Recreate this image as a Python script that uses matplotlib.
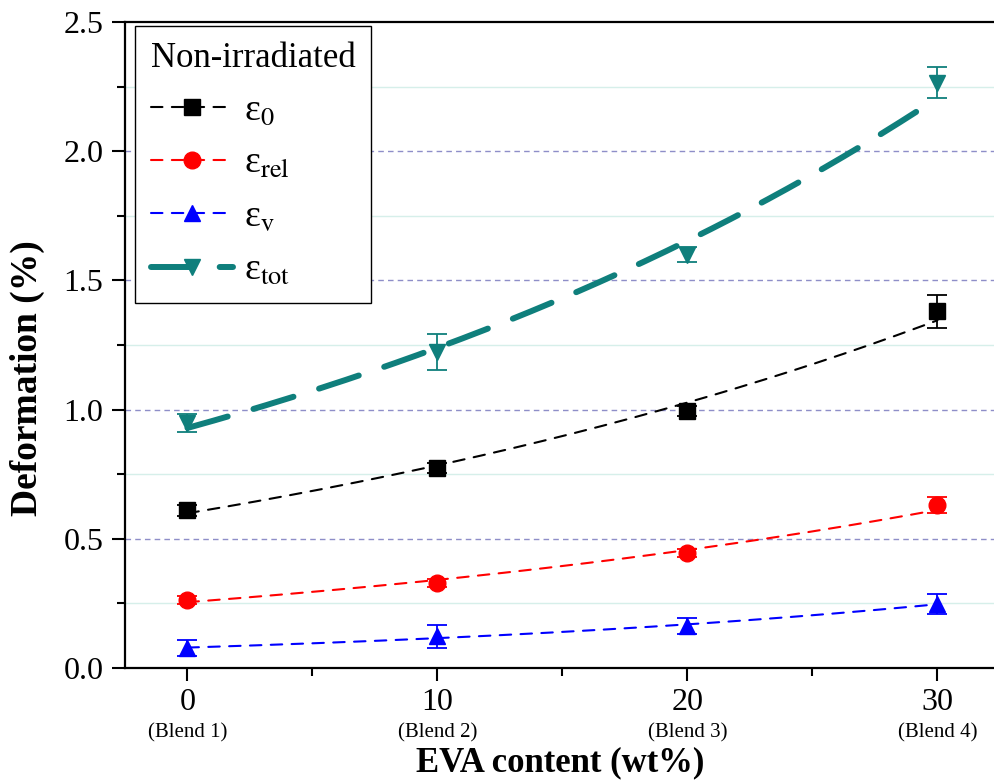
import numpy as np
import matplotlib
matplotlib.use("Agg")
import matplotlib.pyplot as plt
from matplotlib.lines import Line2D
from matplotlib.ticker import MultipleLocator, FormatStrFormatter

plt.rcParams["font.family"] = ["Liberation Serif", "DejaVu Serif"]
plt.rcParams["mathtext.fontset"] = "stix"

# EVA content of the four blends
eva = [0, 10, 20, 30]
blend_names = ["(Blend 1)", "(Blend 2)", "(Blend 3)", "(Blend 4)"]

# deformation components (%) with standard deviations
eps0 = [0.61, 0.775, 0.995, 1.38]
eps0_err = [0.02, 0.02, 0.02, 0.065]
eps_rel = [0.263, 0.329, 0.445, 0.63]
eps_rel_err = [0.015, 0.015, 0.015, 0.03]
eps_v = [0.077, 0.122, 0.163, 0.248]
eps_v_err = [0.03, 0.045, 0.03, 0.04]
eps_tot = [0.948, 1.222, 1.60, 2.265]
eps_tot_err = [0.035, 0.07, 0.03, 0.06]

teal = "#0f7f7c"
series = [
    (eps0, eps0_err, "black", "s", 11, 1.5, (5.5, 4.5), "ε$_{0}$"),
    (eps_rel, eps_rel_err, "#ff0000", "o", 12, 1.5, (5.5, 4.5), "ε$_{\\mathrm{rel}}$"),
    (eps_v, eps_v_err, "#0000ff", "^", 12, 1.5, (5.5, 4.5), "ε$_{\\mathrm{v}}$"),
    (eps_tot, eps_tot_err, teal, "v", 12, 4.3, (7.0, 4.5), "ε$_{\\mathrm{tot}}$"),
]

fig = plt.figure(figsize=(9.95, 7.83), dpi=100)
ax = fig.add_axes([0.1256, 0.1469, 0.8744, 0.8250])

# background grid: dashed at major ticks, faint solid at minor ticks
for y in [0.25, 0.75, 1.25, 1.75, 2.25]:
    ax.axhline(y, color="#d6efea", lw=1.0, zorder=0)
for y in [0.5, 1.0, 1.5, 2.0]:
    ax.axhline(y, color="#8e8ec8", lw=1.0, ls=(0, (4, 3)), zorder=0)

handles = []
xf = np.linspace(0, 30, 200)
for vals, errs, col, mk, ms, lw, dash, lab in series:
    # exponential fit through the four points
    b, a = np.polyfit(eva, np.log(vals), 1)
    yf = np.exp(a + b * xf)
    ax.plot(xf, yf, color=col, lw=lw, dashes=dash, dash_capstyle="round",
            zorder=2)
    ax.errorbar(eva, vals, yerr=errs, fmt=mk, color=col, ms=ms,
                capsize=7, elinewidth=1.3, capthick=1.3, zorder=3)
    handles.append(Line2D([], [], color=col, lw=lw, dashes=dash,
                          dash_capstyle="round", marker=mk, ms=ms, label=lab))

ax.set_xlim(-2.5, 32.3)
ax.set_ylim(0, 2.5)
ax.xaxis.set_major_locator(MultipleLocator(10))
ax.xaxis.set_minor_locator(MultipleLocator(5))
ax.yaxis.set_major_locator(MultipleLocator(0.5))
ax.yaxis.set_minor_locator(MultipleLocator(0.25))
ax.yaxis.set_major_formatter(FormatStrFormatter("%.1f"))

for side in ["left", "bottom", "top"]:
    ax.spines[side].set_linewidth(1.6)
ax.spines["right"].set_visible(False)
ax.tick_params(which="major", direction="out", length=9.5, width=1.5,
               labelsize=23)
ax.tick_params(which="minor", direction="out", length=6, width=1.5)
ax.tick_params(axis="x", which="major", pad=5)
ax.tick_params(axis="y", which="major", pad=6)

for x, name in zip(eva, blend_names):
    ax.text(x, -0.1, name, ha="center", va="center", fontsize=15,
            transform=ax.get_xaxis_transform())

ax.set_xlabel("EVA content (wt%)", fontsize=25, fontweight="bold")
ax.xaxis.set_label_coords(0.5, -0.122)
ax.set_ylabel("Deformation (%)", fontsize=27, fontweight="bold")
ax.yaxis.set_label_coords(-0.092, 0.449)

leg = ax.legend(handles=handles, title="Non-irradiated", loc="upper left",
                bbox_to_anchor=(0.0115, 0.994), fontsize=27, title_fontsize=25,
                handlelength=2.2, labelspacing=0.5, handletextpad=0.3,
                borderpad=0.42, fancybox=False, framealpha=1, numpoints=1,
                borderaxespad=0)
leg.get_frame().set_edgecolor("black")
leg.get_frame().set_linewidth(1.0)
leg._legend_box.align = "left"

fig.savefig("out.png", dpi=100)
